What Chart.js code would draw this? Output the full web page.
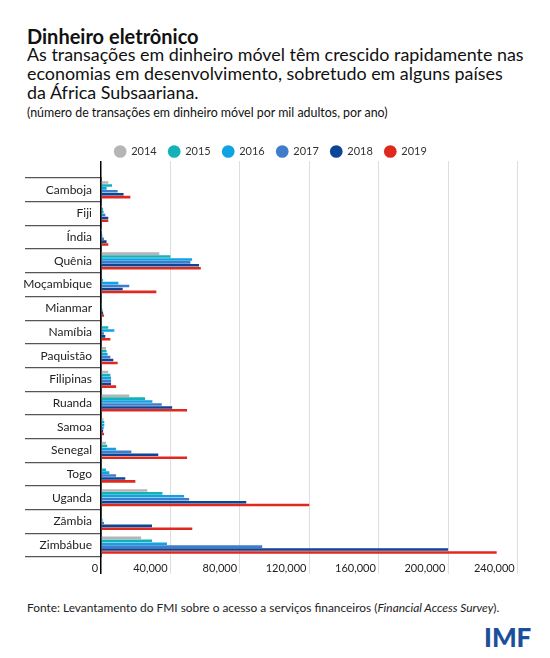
<!DOCTYPE html>
<html><head><meta charset="utf-8">
<script src="https://cdn.jsdelivr.net/npm/chart.js@4"></script>
<style>
body{margin:0;background:#fff;width:550px;height:658px;position:relative;overflow:hidden;font-family:Lato,sans-serif;color:#111;}
#t{position:absolute;left:27px;top:24px;font-size:20px;font-weight:700;white-space:nowrap;}
#s{position:absolute;left:27px;top:45px;font-size:17.9px;line-height:19px;white-space:nowrap;}
#n{position:absolute;left:27px;top:105px;font-size:12.4px;white-space:nowrap;}
#src{position:absolute;left:27px;top:600px;font-size:11.9px;white-space:nowrap;color:#222;}
#imf{position:absolute;left:484px;top:621px;font-size:26px;font-weight:900;color:#1b4f9c;}
#wrap{position:absolute;left:0;top:134px;width:550px;height:443px;}
</style></head>
<body>
<div id="t">Dinheiro eletrônico</div>
<div id="s">As transações em dinheiro móvel têm crescido rapidamente nas<br>economias em desenvolvimento, sobretudo em alguns países<br>da África Subsaariana.</div>
<div id="n">(número de transações em dinheiro móvel por mil adultos, por ano)</div>
<div id="wrap"><canvas id="c"></canvas></div>
<div id="src">Fonte: Levantamento do FMI sobre o acesso a serviços financeiros (<i>Financial Access Survey</i>).</div>
<div id="imf">IMF</div>
<script>
const categories = ["Camboja","Fiji","Índia","Quênia","Moçambique","Mianmar","Namíbia","Paquistão","Filipinas","Ruanda","Samoa","Senegal","Togo","Uganda","Zâmbia","Zimbábue"];
const years = ["2014","2015","2016","2017","2018","2019"];
const v2014 = [4200, 300, 200, 33600, 0, 0, 0, 2900, 4200, 16300, 1500, 2900, 0, 26700, 0, 23100];
const v2015 = [6350, 1200, 400, 40000, 1200, 200, 4200, 3200, 5400, 25400, 1900, 3600, 2900, 35400, 500, 29400];
const v2016 = [3250, 1500, 800, 52500, 10000, 300, 7700, 3800, 5800, 29600, 1900, 8700, 4800, 47900, 900, 38000];
const v2017 = [9600, 2500, 1700, 51500, 16300, 800, 1700, 5400, 5800, 35000, 1500, 17500, 8700, 50800, 1700, 92900];
const v2018 = [13000, 4200, 3200, 56500, 12500, 1200, 2500, 7100, 5800, 41000, 1200, 33000, 14000, 83700, 29400, 200000];
const v2019 = [16900, 4200, 4200, 57500, 31900, 1700, 5400, 9600, 8700, 49600, 1700, 49600, 19800, 120000, 52600, 228000];
const xTicks = [0, 40000, 80000, 120000, 160000, 200000, 240000];
const colors = ['#b5b5b5','#14b1b8','#0fa3e3','#3f7ccc','#0b4596','#e0281f'];
const series = [v2014, v2015, v2016, v2017, v2018, v2019];

const gridColor = c => (c.index === 0 ? '#000' : '#dedede');
const gridWidth = c => (c.index === 0 ? 1.5 : 1);

new Chart(document.getElementById('c'), {
  type: 'bar',
  data: {
    labels: categories,
    datasets: series.map((d, i) => ({
      label: years[i], data: d, backgroundColor: colors[i], borderWidth: 0,
      categoryPercentage: 0.74, barPercentage: 0.88, xAxisID: 'x'
    }))
  },
  options: {
    indexAxis: 'y',
    responsive: true, maintainAspectRatio: false, animation: false,
    layout: { padding: { left: 24, right: 32.5, top: 0, bottom: 0 } },
    plugins: {
      legend: {
        position: 'top',
        labels: { usePointStyle: true, pointStyle: 'circle', boxWidth: 11, boxHeight: 9, padding: 12,
          font: { family: 'Lato', size: 11 }, color: '#333' }
      },
      tooltip: { enabled: false }
    },
    scales: {
      x: {
        position: 'bottom', min: 0, max: 240000,
        afterBuildTicks: s => { s.ticks = xTicks.map(v => ({ value: v })); },
        afterFit: s => { s.height = 20; },
        grid: { color: gridColor, lineWidth: gridWidth, tickLength: 17, drawOnChartArea: true },
        border: { display: false },
        ticks: { align: 'end', padding: -12, maxRotation: 0, autoSkip: false,
          font: { family: 'Lato', size: 11 }, color: '#222',
          callback: v => (v === 0 ? '0' : v.toLocaleString('en-US')) + ' ' }
      },
      x2: {
        position: 'top', axis: 'x', min: 0, max: 240000,
        afterBuildTicks: s => { s.ticks = xTicks.map(v => ({ value: v })); },
        afterFit: s => { s.height = 11; },
        grid: { color: gridColor, lineWidth: gridWidth, tickLength: 17, drawOnChartArea: false },
        border: { display: false },
        ticks: { display: false }
      },
      y: {
        position: 'left',
        afterFit: s => { s.width = 77; },
        grid: { drawOnChartArea: false, tickLength: 76, color: '#555', lineWidth: 1.2, offset: true },
        border: { display: true, color: '#000', width: 1.5 },
        ticks: { padding: -67, font: { family: 'Lato', size: 12 }, color: '#222', autoSkip: false }
      }
    }
  }
});
</script>
</body></html>
